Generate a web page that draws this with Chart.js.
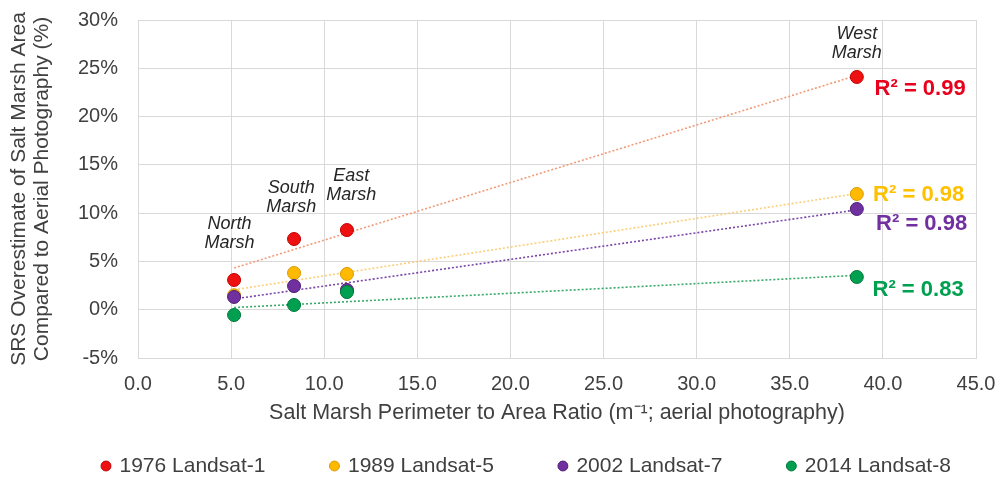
<!DOCTYPE html>
<html>
<head>
<meta charset="utf-8">
<script src="https://cdn.jsdelivr.net/npm/chart.js@4.4.1/dist/chart.umd.min.js"></script>
<style>
  html, body { margin: 0; padding: 0; background: #ffffff; }
  #wrap { width: 1001px; height: 478px; }
</style>
</head>
<body>
<div id="wrap"><canvas id="chart" width="1001" height="478"></canvas></div>
<script>
// ---- data ----
const marshNames = ['North Marsh', 'South Marsh', 'East Marsh', 'West Marsh'];
const perimeterToArea = [5.16, 8.38, 11.22, 38.6];
const seriesNames = ['1976 Landsat-1', '1989 Landsat-5', '2002 Landsat-7', '2014 Landsat-8'];
const overestimate1976 = [3.08, 7.32, 8.25, 24.1];
const overestimate1989 = [1.5, 3.8, 3.7, 11.98];
const overestimate2002 = [1.32, 2.45, 2.04, 10.43];
const overestimate2014 = [-0.55, 0.49, 1.83, 3.39];
const rSquaredLabels = ['0.99', '0.98', '0.98', '0.83'];
const xTickValues = [0, 5, 10, 15, 20, 25, 30, 35, 40, 45];
const yTickValues = [-5, 0, 5, 10, 15, 20, 25, 30];

// ---- styling ----
const FONT = '"Liberation Sans", Arial, Helvetica, sans-serif';
const TEXT = '#404040';
const GRID = '#d9d9d9';
const pointFill = ['#ee1111', '#ffb900', '#7030a0', '#00a050'];
const pointEdge = ['#c40000', '#d89a00', '#4e1f75', '#00783a'];
const trendColor = ['#f29a76', '#fbcf78', '#7a45a8', '#36a96a'];
const r2Color = ['#e8001c', '#ffc000', '#7030a0', '#00a050'];

// label anchors in data units (x ratio, y percent)
const marshLabelAt = [
  { x: 4.92, y: 7.89 }, { x: 8.23, y: 11.57 }, { x: 11.45, y: 12.91 }, { x: 38.6, y: 27.57 }
];
const r2LabelAt = [
  { x: 42.0, y: 22.9 }, { x: 41.92, y: 11.88 }, { x: 42.08, y: 8.93 }, { x: 41.89, y: 2.04 }
];

const seriesValues = [overestimate1976, overestimate1989, overestimate2002, overestimate2014];

// least-squares line through one series, spanning its x range
function trendEnds(xs, ys) {
  const n = xs.length;
  const mx = xs.reduce((a, b) => a + b, 0) / n;
  const my = ys.reduce((a, b) => a + b, 0) / n;
  let sxy = 0, sxx = 0;
  for (let i = 0; i < n; i++) { sxy += (xs[i] - mx) * (ys[i] - my); sxx += (xs[i] - mx) ** 2; }
  const slope = sxy / sxx, icpt = my - slope * mx;
  const lo = Math.min(...xs), hi = Math.max(...xs);
  return [{ x: lo, y: icpt + slope * lo }, { x: hi, y: icpt + slope * hi }];
}

const pointSets = seriesNames.map((name, i) => ({
  label: name,
  data: perimeterToArea.map((x, k) => ({ x, y: seriesValues[i][k] })),
  backgroundColor: pointFill[i],
  borderColor: pointEdge[i],
  borderWidth: 1,
  pointRadius: 6.5,
  pointHoverRadius: 6.5,
  pointStyle: 'circle',
  showLine: false,
  order: 4 - i
}));

const trendSets = seriesNames.map((name, i) => ({
  type: 'line',
  label: name + ' trend',
  isTrend: true,
  data: trendEnds(perimeterToArea, seriesValues[i]),
  borderColor: trendColor[i],
  borderWidth: 1.6,
  borderDash: [2, 2],
  pointRadius: 0,
  fill: false,
  order: 10 + i
}));

// marsh names and R² values drawn at their data anchors
const labelsPlugin = {
  id: 'pointNotes',
  afterDatasetsDraw(chart) {
    const { ctx, scales: { x, y } } = chart;
    ctx.save();
    ctx.textAlign = 'center';
    ctx.textBaseline = 'middle';
    ctx.fillStyle = '#262626';
    ctx.font = 'italic 18px ' + FONT;
    marshNames.forEach((name, i) => {
      const px = x.getPixelForValue(marshLabelAt[i].x);
      const py = y.getPixelForValue(marshLabelAt[i].y);
      const parts = name.split(' ');
      ctx.fillText(parts[0], px, py - 9.5);
      ctx.fillText(parts[1], px, py + 9.5);
    });
    ctx.font = 'bold 22px ' + FONT;
    rSquaredLabels.forEach((r2, i) => {
      ctx.fillStyle = r2Color[i];
      ctx.fillText('R\u00B2 = ' + r2, x.getPixelForValue(r2LabelAt[i].x), y.getPixelForValue(r2LabelAt[i].y));
    });
    ctx.restore();
  }
};

// legend row sits below the axis title, starting near the left
const LEGEND_ROW_Y = 466;
const LEGEND_FIRST_X = 103;
const legendPlacement = {
  id: 'legendPlacement',
  afterLayout(chart) {
    const lg = chart.legend;
    if (!lg) return;
    const pad = lg.options.labels.padding;
    const fs = lg.options.labels.font.size;
    const top = LEGEND_ROW_Y - pad - fs / 2;
    const left = LEGEND_FIRST_X - pad;
    lg.top = top;
    lg.bottom = chart.height;
    lg.height = lg.bottom - lg.top;
    lg.left = left;
    lg.right = left + 1200;
    lg.width = 1200;
  }
};

new Chart(document.getElementById('chart'), {
  type: 'scatter',
  data: { datasets: [...pointSets, ...trendSets] },
  options: {
    responsive: false,
    animation: false,
    events: [],
    layout: { padding: { top: 20, right: 25, left: 0, bottom: 0 } },
    plugins: {
      tooltip: { enabled: false },
      legend: {
        position: 'bottom',
        align: 'start',
        maxHeight: 40,
        labels: {
          usePointStyle: true,
          boxWidth: 6,
          boxHeight: 7,
          padding: 66,
          color: TEXT,
          font: { family: FONT, size: 21 },
          filter: (item, data) => !data.datasets[item.datasetIndex].isTrend,
          sort: (a, b) => a.datasetIndex - b.datasetIndex
        }
      }
    },
    scales: {
      x: {
        type: 'linear',
        min: 0,
        max: 45,
        afterBuildTicks: (s) => { s.ticks = xTickValues.map(v => ({ value: v })); },
        afterFit: (s) => { s.height = 80; s.paddingLeft = 0; s.paddingRight = 0; },
        grid: { color: GRID, lineWidth: 1, drawTicks: false },
        border: { display: true, color: GRID },
        ticks: {
          padding: 14,
          color: TEXT,
          font: { family: FONT, size: 20 },
          maxRotation: 0,
          callback: (v) => Number(v).toFixed(1)
        },
        title: {
          display: true,
          text: 'Salt Marsh Perimeter to Area Ratio (m\u207B\u00B9; aerial photography)',
          color: TEXT,
          font: { family: FONT, size: 21.5 },
          padding: { top: 0, bottom: 12 }
        }
      },
      y: {
        type: 'linear',
        min: -5,
        max: 30,
        afterBuildTicks: (s) => { s.ticks = yTickValues.map(v => ({ value: v })); },
        afterFit: (s) => { s.width = 138; s.paddingTop = 0; s.paddingBottom = 0; },
        grid: { color: GRID, lineWidth: 1, drawTicks: false },
        border: { display: true, color: GRID },
        ticks: {
          padding: 20,
          color: TEXT,
          font: { family: FONT, size: 20 },
          callback: (v) => v + '%'
        },
        title: {
          display: true,
          text: ['SRS Overestimate of Salt Marsh Area', 'Compared to Aerial Photography (%)'],
          color: TEXT,
          font: { family: FONT, size: 21, lineHeight: 1.1 },
          padding: { top: 8, bottom: 0 }
        }
      }
    }
  },
  plugins: [labelsPlugin, legendPlacement]
});
</script>
</body>
</html>
